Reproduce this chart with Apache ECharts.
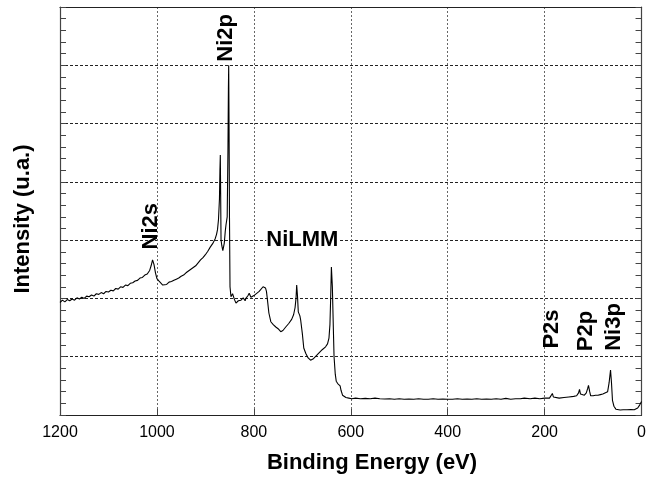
<!DOCTYPE html>
<html>
<head>
<meta charset="utf-8">
<script src="https://cdn.jsdelivr.net/npm/echarts@6/dist/echarts.min.js"></script>
<style>
html,body{margin:0;padding:0;background:#fff;}
#chart{width:649px;height:477px;}
</style>
</head>
<body>
<div id="chart"></div>
<script>
// Binding energy (eV)
const energy = [
1200,1195,1190,1185,1180,1175,1170,1165,1160,1155,1150,1145,1140,1135,1130,1125,1120,1115,1110,1105,
1100,1095,1090,1085,1080,1075,1070,1065,1060,1055,1050,1045,1040,1035,1030,1025,1020,1015,1012,1009,
1006,1003,1000,996,992,988,984,980,975,970,965,960,955,950,945,940,935,930,925,920,
915,910,905,900,895,890,885,880,877,875,873,871,870,869.2,868.5,867.7,866,864,862.4,861,
859,857.5,855,853.5,852.5,851.9,851.2,850.3,849.2,847.2,845,843.9,840,836.9,832,826.6,822,818,816.4,812,
809.6,806,802.8,798,794,789,785,781,778.8,776,774,772,769,765,760,754.7,750,747,744.5,740,
734.2,728,722,718,715,713,711.6,710,708.3,705,703.4,700,697,693,688,683,678,673,669,664,
659,655,652,648,645,643,641.5,640,638,636,634.5,632,630,627,625,622,620,617,614,610,
604,598,590,580,570,560,550,540,530,520,510,500,490,480,470,460,450,440,430,420,
410,400,390,380,370,360,350,340,330,320,310,300,290,280,270,260,250,242,240,238,
230,220,210,200,190,186,184,182,178,170,160,150,140,134,130,128,126,124,118,114,
111,109.5,107,105,100,95,90,85,80,76,70,67,65,64,62,60,57,53,49,44,
38,30,22,15,8,4,0
];
// Intensity (u.a.)
const intensity = [
1.93,1.97,1.94,1.98,1.96,1.99,1.97,2.01,1.99,2.02,2.00,2.04,2.03,2.06,2.04,2.08,2.07,2.10,2.08,2.12,
2.11,2.14,2.13,2.17,2.16,2.20,2.19,2.23,2.22,2.26,2.27,2.30,2.31,2.35,2.36,2.40,2.42,2.48,2.56,2.66,
2.58,2.44,2.34,2.30,2.27,2.23,2.26,2.24,2.28,2.29,2.31,2.33,2.35,2.38,2.40,2.44,2.47,2.50,2.53,2.56,
2.61,2.66,2.70,2.75,2.81,2.88,2.94,3.02,3.10,3.18,3.35,3.70,4.20,4.46,3.80,3.00,2.90,2.82,2.79,2.95,
3.15,3.26,3.40,4.50,5.60,6.00,5.00,3.40,2.20,2.03,2.05,2.08,1.98,1.92,1.96,1.97,2.01,1.96,2.00,2.05,
2.09,2.02,2.04,2.06,2.09,2.12,2.15,2.20,2.23,2.18,2.12,1.98,1.75,1.60,1.55,1.51,1.48,1.50,1.43,1.45,
1.51,1.57,1.64,1.72,1.84,2.00,2.23,2.05,1.77,1.70,1.63,1.40,1.15,1.06,0.98,0.94,0.96,1.00,1.03,1.08,
1.12,1.14,1.17,1.22,1.32,1.55,2.00,2.54,2.20,1.50,1.00,0.70,0.58,0.54,0.57,0.50,0.42,0.34,0.31,0.30,
0.29,0.28,0.29,0.28,0.285,0.28,0.29,0.28,0.275,0.28,0.27,0.28,0.27,0.275,0.27,0.28,0.27,0.27,0.28,0.27,
0.275,0.27,0.27,0.28,0.27,0.275,0.27,0.28,0.27,0.275,0.27,0.28,0.27,0.285,0.27,0.28,0.28,0.29,0.31,0.28,
0.28,0.29,0.28,0.29,0.29,0.31,0.37,0.31,0.29,0.29,0.30,0.31,0.32,0.33,0.38,0.44,0.36,0.33,0.34,0.38,
0.46,0.51,0.40,0.33,0.33,0.34,0.34,0.35,0.36,0.37,0.40,0.55,0.70,0.77,0.55,0.25,0.15,0.10,0.09,0.085,
0.09,0.09,0.095,0.09,0.12,0.17,0.23
];
// Tick values of the energy axis
const energyTicks = [1200,1000,800,600,400,200,0];
// Peak annotations
const peakNames = ['Ni2s','Ni2p','NiLMM','P2s','P2p','Ni3p'];
const peakEnergy = [1013,857,700,185,115,57.5];
const peakLevel = [3.24,6.47,3.01,1.475,1.44,1.51];
const peakVertical = [true,true,false,true,true,true];

const FONT = "'Liberation Sans', Arial, Helvetica, sans-serif";
const chart = echarts.init(document.getElementById('chart'), null, {renderer:'canvas'});

const seriesData = energy.map((e,i)=>[e,intensity[i]]);

const option = {
  animation:false,
  backgroundColor:'#fff',
  grid:{left:60,right:5,top:7,bottom:62,containLabel:false},
  xAxis:[{
    type:'value',min:energyTicks[energyTicks.length-1],max:energyTicks[0],interval:200,inverse:true,position:'bottom',
    axisLine:{show:true,onZero:false,lineStyle:{color:'#222',width:1.2}},
    axisTick:{show:true,inside:true,length:6,lineStyle:{color:'#444'}},
    axisLabel:{show:true,color:'#000',fontSize:16,fontFamily:FONT,margin:10,formatter:v=>String(v)},
    splitLine:{show:true,lineStyle:{color:'#666',type:[2,2],width:1}}
  },{
    type:'value',min:0,max:1200,interval:200,inverse:true,position:'top',
    axisLine:{show:true,onZero:false,lineStyle:{color:'#222',width:1.2}},
    axisTick:{show:false},axisLabel:{show:false},splitLine:{show:false}
  }],
  yAxis:[{
    type:'value',min:0,max:7,interval:1,position:'left',
    axisLine:{show:true,onZero:false,lineStyle:{color:'#444',width:1.2}},
    axisTick:{show:true,inside:true,length:6,lineStyle:{color:'#444'}},
    minorTick:{show:true,splitNumber:5,length:6,lineStyle:{color:'#444'}},
    axisLabel:{show:false},
    splitLine:{show:true,lineStyle:{color:'#222',type:[3,2],width:1}}
  },{
    type:'value',min:0,max:7,interval:1,position:'right',
    axisLine:{show:true,onZero:false,lineStyle:{color:'#444',width:1.2}},
    axisTick:{show:true,inside:true,length:6,lineStyle:{color:'#444'}},
    minorTick:{show:true,splitNumber:5,length:6,lineStyle:{color:'#444'}},
    axisLabel:{show:false},splitLine:{show:false}
  }],
  series:[{
    type:'line',xAxisIndex:0,yAxisIndex:0,data:seriesData,showSymbol:false,symbol:'none',
    lineStyle:{color:'#000',width:1.1},silent:true
  }]
};
chart.setOption(option);

const graphics = [
  {type:'text',x:372,y:463,style:{text:'Binding Energy (eV)',font:"bold 22px "+FONT,fill:'#000',align:'center',verticalAlign:'middle'}},
  {type:'text',x:23,y:219,rotation:Math.PI/2,style:{text:'Intensity (u.a.)',font:"bold 22px "+FONT,fill:'#000',align:'center',verticalAlign:'middle'}}
];
peakNames.forEach((n,i)=>{
  const p = chart.convertToPixel({xAxisIndex:0,yAxisIndex:0},[peakEnergy[i],peakLevel[i]]);
  graphics.push({type:'text',x:p[0],y:p[1],rotation:peakVertical[i]?Math.PI/2:0,
    style:{text:n,font:"bold 22px "+FONT,fill:'#000',align:'center',verticalAlign:'middle',
      backgroundColor: peakVertical[i]?null:'#fff'}});
});
chart.setOption({graphic:graphics});
</script>
</body>
</html>
